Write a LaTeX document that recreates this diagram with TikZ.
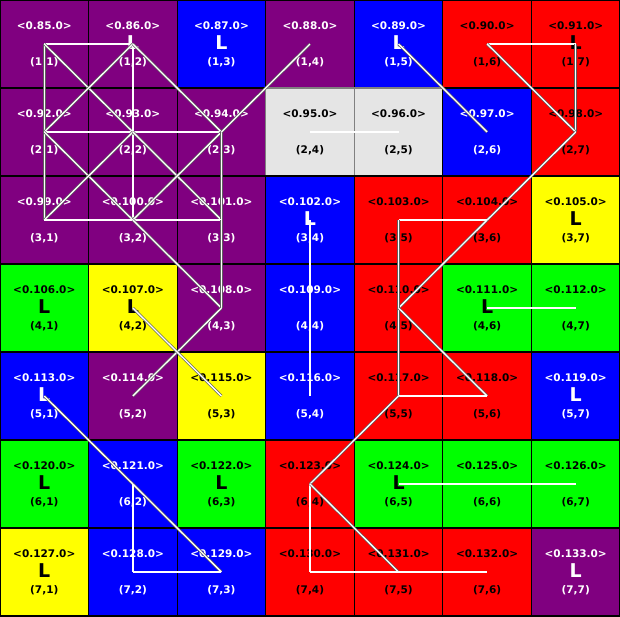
\documentclass[tikz,border=0pt]{standalone}
\usepackage{fontspec}
\setmainfont{DejaVu Sans}
\usepackage{xcolor}
\definecolor{gridpurple}{HTML}{800080}
\definecolor{gridblue}{HTML}{0000FF}
\definecolor{gridred}{HTML}{FF0000}
\definecolor{gridyellow}{HTML}{FFFF00}
\definecolor{gridgreen}{HTML}{00FF00}
\definecolor{gridsilver}{HTML}{E5E5E5}
\usetikzlibrary{positioning}
\tikzset{
  cell/.style={draw=black, line width=1.2pt, minimum width=88.57pt,
               minimum height=88pt, inner sep=0pt, outer sep=0pt},
  cellpu/.style={cell, fill=gridpurple},
  cellbl/.style={cell, fill=gridblue},
  cellre/.style={cell, fill=gridred},
  cellye/.style={cell, fill=gridyellow},
  cellgr/.style={cell, fill=gridgreen},
  cellsi/.style={cell, fill=gridsilver, draw=gray},
  txtpu/.style={text=white}, txtbl/.style={text=white},
  txtre/.style={text=black}, txtye/.style={text=black},
  txtgr/.style={text=black}, txtsi/.style={text=black},
  tag/.style={font=\bfseries\fontsize{10.5}{12}\selectfont, inner sep=0pt},
  lmark/.style={font=\bfseries\fontsize{19}{22}\selectfont, inner sep=0pt},
  link/.style={draw=gray!75!black, line width=0.7pt, double=white, double distance=1.3pt},
}

\begin{document}
\begin{tikzpicture}
  \useasboundingbox (0,0) rectangle (620pt,-616pt);
  \foreach \y/\row in {1/{pu,pu,bl,pu,bl,re,re}, 2/{pu,pu,pu,si,si,bl,re},
                       3/{pu,pu,pu,bl,re,re,ye}, 4/{gr,ye,pu,bl,re,gr,gr},
                       5/{bl,pu,ye,bl,re,re,bl}, 6/{gr,bl,gr,re,gr,gr,gr},
                       7/{ye,bl,bl,re,re,re,pu}} {
    \foreach \k [count=\x] in \row {
      \pgfmathtruncatemacro\num{84+7*(\y-1)+\x}
      \node[cell\k] (c\y\x) at ({(\x-0.5)*88.57pt}, {-(\y-0.5)*88pt}) {};
      \node[tag, txt\k] at ([yshift=18.5pt]c\y\x.center) {<0.\num.0>};
      \node[tag, txt\k] at ([yshift=-18pt]c\y\x.center) {(\y,\x)};
    }
  }
  \foreach \y/\x/\k in {1/2/pu, 1/3/bl, 1/5/bl, 1/7/re, 3/4/bl, 3/7/ye, 4/1/gr, 4/2/ye,
                        4/6/gr, 5/1/bl, 5/7/bl, 6/1/gr, 6/3/gr, 6/5/gr, 7/1/ye, 7/7/pu}
    \node[lmark, txt\k] at ([yshift=1pt]c\y\x.center) {L};
  \foreach \a/\b in {11/12, 11/21, 21/31, 11/22, 12/21, 12/22, 22/32, 12/23,
                     21/22, 22/23, 21/32, 22/31, 22/33, 23/32, 23/33, 31/32,
                     32/33, 23/14, 32/43, 33/43, 43/52, 24/25, 15/26, 34/44,
                     44/54, 51/62, 62/73, 62/72, 72/73, 42/53, 16/17, 17/27,
                     16/27, 27/36, 36/45, 35/36, 35/45, 45/55, 45/56, 55/56,
                     55/64, 64/74, 64/75, 74/75, 75/76, 46/47, 65/66, 66/67}
    \draw[link] (c\a.center) -- (c\b.center);
\end{tikzpicture}
\end{document}
